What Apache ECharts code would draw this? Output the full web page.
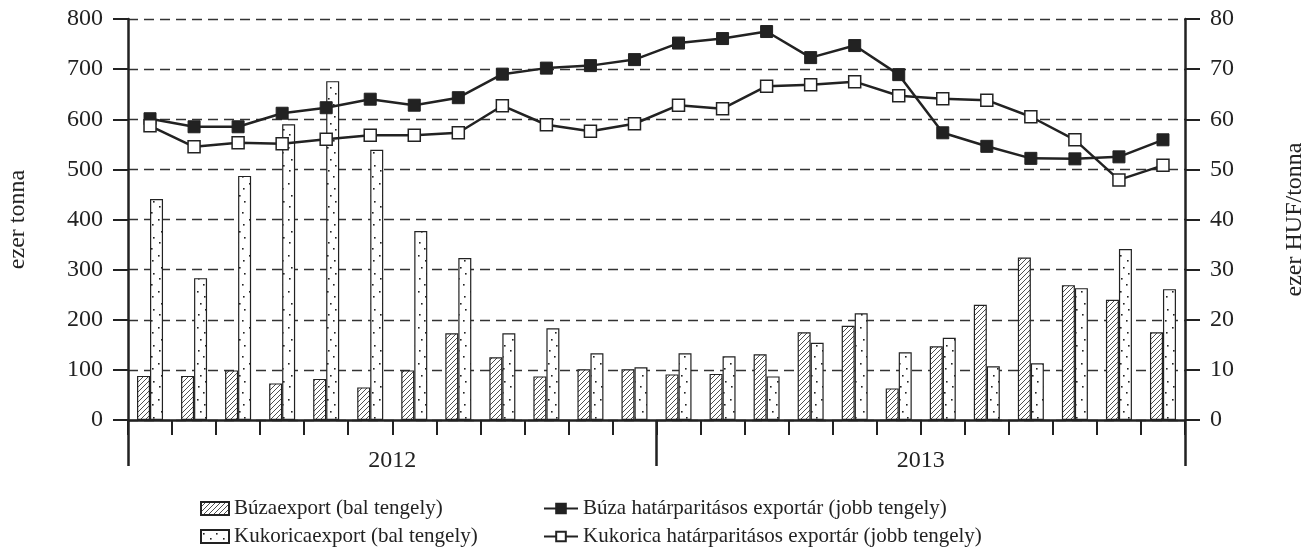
<!DOCTYPE html>
<html>
<head>
<meta charset="utf-8">
<script src="https://cdn.jsdelivr.net/npm/echarts@6/dist/echarts.min.js"></script>
<style>
  html, body { margin: 0; padding: 0; background: #fff; }
  #chart { width: 1307px; height: 553px; }
</style>
</head>
<body>
<div id="chart"></div>
<script>
const months = ['2012-01','2012-02','2012-03','2012-04','2012-05','2012-06','2012-07','2012-08','2012-09','2012-10','2012-11','2012-12',
                '2013-01','2013-02','2013-03','2013-04','2013-05','2013-06','2013-07','2013-08','2013-09','2013-10','2013-11','2013-12']
const years = ['2012', '2013']

// ezer tonna (bal tengely)
const wheatExport = [88, 88, 99, 73, 82, 65, 99, 173, 125, 87, 101, 101, 91, 92, 131, 175, 188, 63, 147, 230, 324, 269, 240, 175]
const cornExport = [441, 283, 487, 590, 676, 539, 377, 323, 173, 183, 133, 105, 133, 127, 87, 154, 213, 135, 164, 107, 113, 263, 341, 261]

// ezer HUF/tonna (jobb tengely)
const wheatPrice = [60.1, 58.5, 58.5, 61.2, 62.3, 64.0, 62.8, 64.3, 69.0, 70.2, 70.7, 71.9, 75.2, 76.1, 77.5, 72.3, 74.7, 68.9, 57.3, 54.6, 52.2, 52.1, 52.5, 55.9]
const cornPrice = [58.7, 54.5, 55.3, 55.1, 56.0, 56.8, 56.8, 57.3, 62.7, 58.9, 57.6, 59.1, 62.8, 62.1, 66.6, 66.9, 67.5, 64.7, 64.1, 63.8, 60.5, 55.9, 47.9, 50.8]

const names = ['Búzaexport (bal tengely)', 'Kukoricaexport (bal tengely)',
               'Búza határparitásos exportár (jobb tengely)', 'Kukorica határparitásos exportár (jobb tengely)']

const ink = '#222'
const font = 'Liberation Serif'

// hatch fill for wheat bars
const hatch = (() => {
    let c = document.createElement('canvas')
    c.width = 5; c.height = 5
    let g = c.getContext('2d')
    g.fillStyle = '#fff'
    g.fillRect(0, 0, 5, 5)
    g.strokeStyle = ink
    g.lineWidth = 0.8
    g.beginPath()
    g.moveTo(-1, 6); g.lineTo(6, -1)
    g.moveTo(-1, 1); g.lineTo(1, -1)
    g.moveTo(4, 6); g.lineTo(6, 4)
    g.stroke()
    return c
})()

// sparse dots for corn bars
const dots = (() => {
    let c = document.createElement('canvas')
    c.width = 13; c.height = 36
    let g = c.getContext('2d')
    g.fillStyle = '#fff'
    g.fillRect(0, 0, 13, 36)
    g.fillStyle = ink
    ;[[2, 3], [9, 8], [5, 15], [10, 21], [3, 26], [8, 32]].forEach(p => g.fillRect(p[0], p[1], 1.6, 1.6))
    return c
})()

const axisText = { color: ink, fontFamily: font, fontSize: 24 }
const legendText = { color: ink, fontFamily: font, fontSize: 21 }

const legendItem = (name, left, top, extra) => Object.assign({
    data: [name],
    left: left,
    top: top,
    padding: 0,
    itemGap: 6,
    textStyle: legendText
}, extra)

let chart = echarts.init(document.getElementById('chart'))
chart.setOption({
    animation: false,
    textStyle: { fontFamily: font },
    grid: { left: 128, right: 122, top: 19, bottom: 133, outerBoundsMode: 'none', containLabel: false },
    legend: [
        legendItem(names[0], 200, 498, { icon: 'rect', itemWidth: 28, itemHeight: 13 }),
        legendItem(names[1], 200, 526, { icon: 'rect', itemWidth: 28, itemHeight: 13 }),
        legendItem(names[2], 543, 498, { itemWidth: 34, itemHeight: 12 }),
        legendItem(names[3], 543, 526, { itemWidth: 34, itemHeight: 12 })
    ],
    xAxis: [
        {
            type: 'category',
            data: months,
            boundaryGap: true,
            axisLine: { lineStyle: { color: ink, width: 2.5 } },
            axisTick: { show: true, interval: 0, length: 15, lineStyle: { color: ink, width: 2 } },
            axisLabel: { show: false }
        },
        {
            type: 'category',
            data: years,
            position: 'bottom',
            boundaryGap: true,
            axisLine: { show: false },
            axisTick: { show: true, interval: 0, length: 46, lineStyle: { color: ink, width: 2.5 } },
            axisLabel: Object.assign({ margin: 29 }, axisText)
        }
    ],
    yAxis: [
        {
            type: 'value',
            min: 0,
            max: 800,
            interval: 100,
            name: 'ezer tonna',
            nameLocation: 'middle',
            nameRotate: 90,
            nameGap: 98,
            nameTextStyle: axisText,
            axisLine: { show: true, lineStyle: { color: ink, width: 2.5 } },
            axisTick: { show: true, length: 15, lineStyle: { color: ink, width: 2 } },
            axisLabel: Object.assign({ margin: 25 }, axisText),
            splitLine: { lineStyle: { color: '#333', width: 1.3, type: [10, 6] } }
        },
        {
            type: 'value',
            min: 0,
            max: 80,
            interval: 10,
            name: 'ezer HUF/tonna',
            nameLocation: 'middle',
            nameRotate: 90,
            nameGap: 98,
            nameTextStyle: axisText,
            axisLine: { show: true, lineStyle: { color: ink, width: 2.5 } },
            axisTick: { show: true, length: 15, lineStyle: { color: ink, width: 2 } },
            axisLabel: Object.assign({ margin: 25 }, axisText),
            splitLine: { show: false }
        }
    ],
    series: [
        {
            name: names[0],
            type: 'bar',
            data: wheatExport,
            barWidth: 13,
            barGap: '0%',
            itemStyle: { color: { image: hatch, repeat: 'repeat' }, borderColor: ink, borderWidth: 1.2 }
        },
        {
            name: names[1],
            type: 'bar',
            data: cornExport,
            barWidth: 13,
            barGap: '0%',
            itemStyle: { color: { image: dots, repeat: 'repeat' }, borderColor: ink, borderWidth: 1.2 }
        },
        {
            name: names[2],
            type: 'line',
            yAxisIndex: 1,
            data: wheatPrice,
            symbol: 'rect',
            symbolSize: 12,
            z: 5,
            lineStyle: { color: ink, width: 2.5 },
            itemStyle: { color: ink, borderColor: ink, borderWidth: 1 }
        },
        {
            name: names[3],
            type: 'line',
            yAxisIndex: 1,
            data: cornPrice,
            symbol: 'rect',
            symbolSize: 12,
            z: 5,
            lineStyle: { color: ink, width: 2.5 },
            itemStyle: { color: '#fff', borderColor: ink, borderWidth: 1.5 }
        }
    ]
})
</script>
</body>
</html>
